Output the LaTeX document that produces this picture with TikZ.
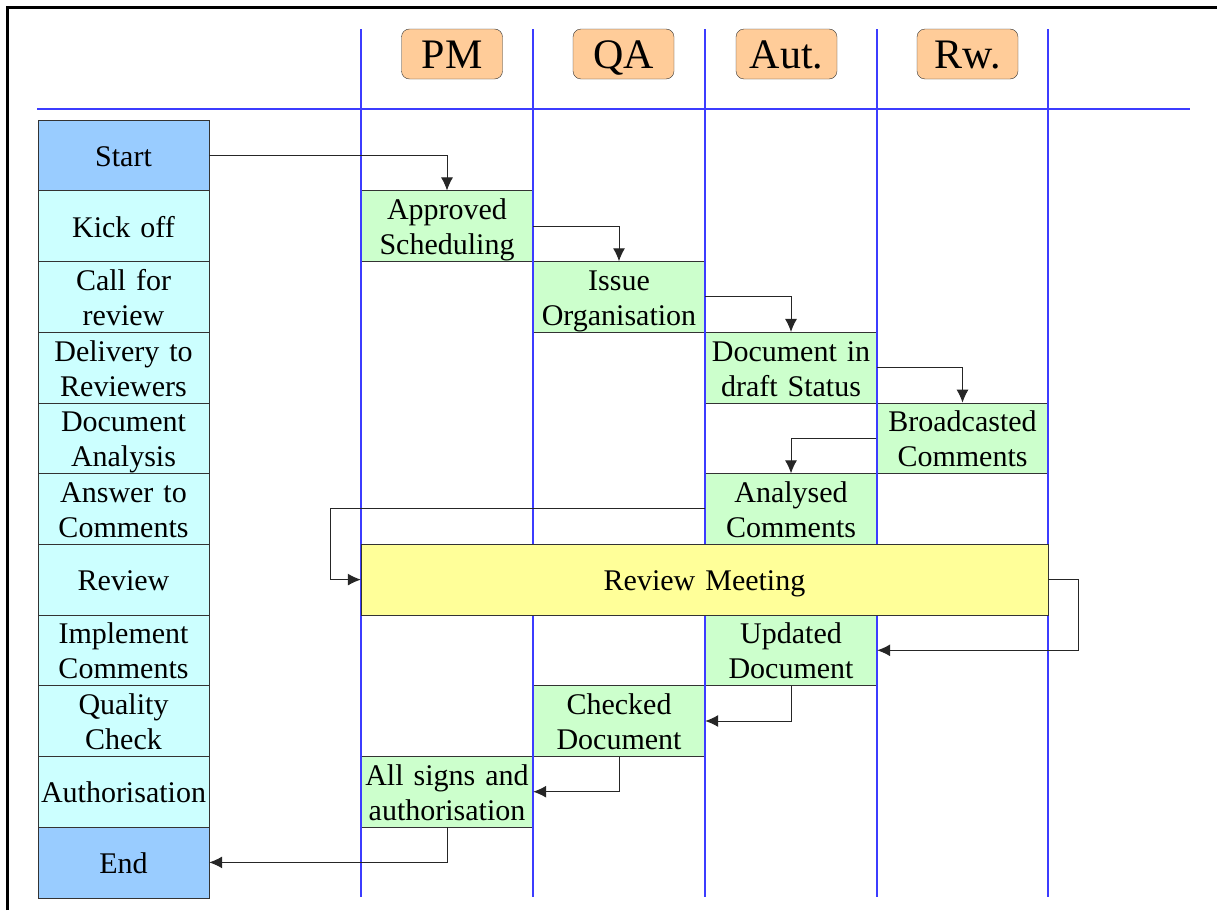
\documentclass[tikz,border=0pt]{standalone}
\usepackage{fontspec}
\setmainfont{Liberation Serif}
\usetikzlibrary{arrows.meta}
\definecolor{phasecol}{HTML}{CCFFFF}
\definecolor{endcol}{HTML}{99CCFF}
\definecolor{taskcol}{HTML}{CCFFCC}
\definecolor{meetcol}{HTML}{FFFF99}
\definecolor{rolecol}{HTML}{FFCC99}
\definecolor{lanecol}{RGB}{60,60,255}
\newcommand\rowstrut{\rule[-6.5pt]{0pt}{35pt}}
\newcommand\rolestrut{\rule[-8pt]{0pt}{45pt}}
\tikzset{
  phase/.style={draw=black!80, fill=phasecol, minimum width=171pt, minimum height=70.7pt,
    text width=171pt, inner sep=0pt, align=center, font=\fontsize{30}{35}\selectfont,
    execute at begin node=\rowstrut, execute at end node=\rowstrut},
  task/.style={phase, fill=taskcol, minimum width=172pt, text width=172pt},
  role/.style={draw=black!80, fill=rolecol, rounded corners=8pt, minimum width=101pt,
    minimum height=50pt, inner sep=0pt, font=\fontsize{42}{46}\selectfont,
    execute at begin node=\rolestrut},
  lane/.style={draw=lanecol, line width=1.3pt},
  flow/.style={->, line width=1pt, draw=black!85}
}
\begin{document}
\begin{tikzpicture}[x=1pt, y=-1pt, >={Latex[length=13pt,width=12pt]}]
  \useasboundingbox (0,0) rectangle (1217,910);
  \draw[line width=3pt] (7,910) -- (7,7) -- (1217,7);

  % roles
  \node[role] at (452,54) (pm){PM};
  \node[role] at (623.5,54) (qa){QA};
  \node[role] at (786.5,54) (aut){Aut.};
  \node[role] at (967.5,54) (rw){Rw.};

  % phases
  \node[phase, fill=endcol] at (123.5,155.4) (start){Start};
  \node[phase] at (123.5,226) (kick){Kick off};
  \node[phase] at (123.5,296.8) (call){Call for\\review};
  \node[phase] at (123.5,367.5) (deliv){Delivery to\\Reviewers};
  \node[phase] at (123.5,438.2) (analysis){Document\\Analysis};
  \node[phase] at (123.5,508.9) (answer){Answer to\\Comments};
  \node[phase] at (123.5,579.6) (review){Review};
  \node[phase] at (123.5,650.3) (impl){Implement\\Comments};
  \node[phase] at (123.5,721) (quality){Quality\\Check};
  \node[phase] at (123.5,791.7) (authph){Authorisation};
  \node[phase, fill=endcol] at (123.5,862.4) (stop){End};

  % tasks
  \node[task] at (447,226) (approved){Approved\\Scheduling};
  \node[task] at (619,296.8) (issue){Issue\\Organisation};
  \node[task] at (791,367.5) (draft){Document in\\draft Status};
  \node[task] at (962.5,438.2) (broad){Broadcasted\\Comments};
  \node[task] at (791,508.9) (analysed){Analysed\\Comments};
  \node[task] at (791,650.3) (updated){Updated\\Document};
  \node[task] at (619,721) (checked){Checked\\Document};
  \node[task] at (447,791.7) (signs){All signs and\\authorisation};

  % swim lanes
  \draw[lane, line width=2pt] (37,109) -- (1190,109);
  \foreach \x in {361,533,705,877,1048}
    \draw[lane] (\x,29) -- (\x,897);

  \node[task, fill=meetcol, minimum width=687pt, text width=687pt] at (704.5,579.6) (meeting){Review Meeting};

  % flow
  \coordinate (loopl) at (330,579.6);
  \draw[flow] (start.east) -| (approved.north);
  \draw[flow] (approved.east) -| (issue.north);
  \draw[flow] (issue.east) -| (draft.north);
  \draw[flow] (draft.east) -| (broad.north);
  \draw[flow] (broad.west) -| (analysed.north);
  \draw[flow] (analysed.west) -| (loopl) -- (meeting.west);
  \draw[flow] (meeting.east) -- ++(30,0) |- (updated.east);
  \draw[flow] (updated.south) |- (checked.east);
  \draw[flow] (checked.south) |- (signs.east);
  \draw[flow] (signs.south) |- (stop.east);
\end{tikzpicture}
\end{document}
